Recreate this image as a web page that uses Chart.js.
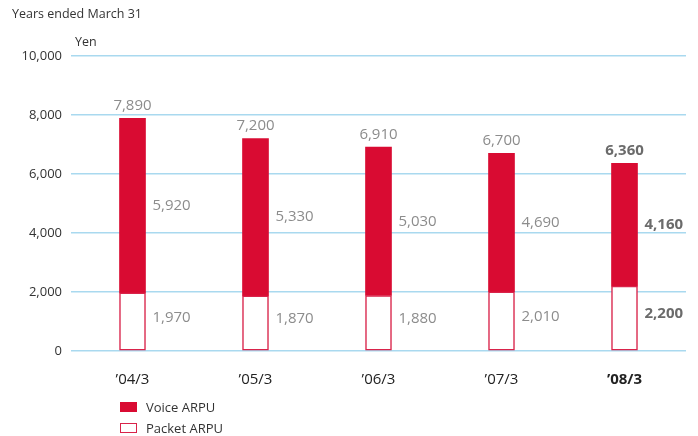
<!DOCTYPE html>
<html>
<head>
<meta charset="utf-8">
<script src="https://cdn.jsdelivr.net/npm/chart.js@4/dist/chart.umd.min.js"></script>
<style>
  body { margin: 0; background: #fff; font-family: "Open Sans", sans-serif; }
  #wrap { position: relative; width: 698px; height: 436px; }
  .txt { position: absolute; font-size: 12.5px; color: #333; white-space: nowrap; }
  .leg { position: absolute; left: 120px; font-size: 13px; color: #333; display: flex; align-items: center; }
  .leg span.box { display: inline-block; width: 17px; height: 10px; margin-right: 9px; box-sizing: border-box; }
</style>
</head>
<body>
<div id="wrap">
  <canvas id="grafico" width="698" height="436"></canvas>
  <div class="txt" style="left:12px; top:5px;">Years ended March 31</div>
  <div class="txt" style="left:75px; top:33px;">Yen</div>
  <div class="leg" style="top:398px;"><span class="box" style="background:#d90b32;"></span>Voice ARPU</div>
  <div class="leg" style="top:419px;"><span class="box" style="background:#fff;border:1.5px solid #d9234a;"></span>Packet ARPU</div>
</div>
<script>
const anos = ["’04/3", "’05/3", "’06/3", "’07/3", "’08/3"];
const voz = [5920, 5330, 5030, 4690, 4160];
const pacote = [1970, 1870, 1880, 2010, 2200];
const totais = [7890, 7200, 6910, 6700, 6360];
const ticksY = [0, 2000, 4000, 6000, 8000, 10000];

const ultimo = anos.length - 1;

function formatar(v) {
  return v.toLocaleString("en-US");
}

// Rótulos de valores ao lado e acima das barras
const rotulos = {
  id: "rotulos",
  afterDatasetsDraw(chart) {
    const ctx = chart.ctx;
    const barrasPacote = chart.getDatasetMeta(0).data;
    const barrasVoz = chart.getDatasetMeta(1).data;
    ctx.save();
    anos.forEach((a, i) => {
      const negrito = i === ultimo;
      ctx.font = (negrito ? "bold " : "") + "15px 'Open Sans'";
      ctx.fillStyle = negrito ? "#6b6b6b" : "#8c8c8c";

      const bv = barrasVoz[i];
      const bp = barrasPacote[i];
      const dir = bv.x + bv.width / 2 + 7;

      ctx.textAlign = "center";
      ctx.textBaseline = "bottom";
      ctx.fillText(formatar(totais[i]), bv.x, bv.y - 5);

      ctx.textAlign = "left";
      ctx.textBaseline = "middle";
      ctx.fillText(formatar(voz[i]), dir, (bv.y + bv.base) / 2);
      ctx.fillText(formatar(pacote[i]), dir, (bp.y + bp.base) / 2 - 4);
    });
    ctx.restore();
  }
};

new Chart(document.getElementById("grafico"), {
  type: "bar",
  data: {
    labels: anos,
    datasets: [
      {
        label: "Packet ARPU",
        data: pacote,
        backgroundColor: "#ffffff",
        borderColor: "#d9234a",
        borderWidth: 1.5,
        borderSkipped: false,
        barThickness: 26
      },
      {
        label: "Voice ARPU",
        data: voz,
        backgroundColor: "#d90b32",
        borderWidth: 0,
        barThickness: 26
      }
    ]
  },
  options: {
    responsive: false,
    animation: false,
    layout: { padding: { top: 56, right: 12, left: 0, bottom: 0 } },
    plugins: {
      legend: { display: false },
      tooltip: { enabled: false }
    },
    scales: {
      x: {
        stacked: true,
        grid: { display: false },
        border: { display: false },
        afterFit: s => { s.height = 85; },
        ticks: {
          padding: 12,
          color: "#222",
          font: ctx => ({
            family: "'Open Sans'",
            size: 15,
            weight: ctx.index === ultimo ? "bold" : "normal"
          })
        }
      },
      y: {
        stacked: true,
        min: 0,
        max: 10000,
        afterFit: s => { s.width = 71; },
        afterBuildTicks: s => { s.ticks = ticksY.map(v => ({ value: v })); },
        grid: { color: "#a9d9ef", lineWidth: 1.5, drawTicks: false },
        border: { display: false },
        ticks: {
          padding: 9,
          color: "#333",
          font: { family: "'Open Sans'", size: 13 },
          callback: v => formatar(v)
        }
      }
    }
  },
  plugins: [rotulos]
});
</script>
</body>
</html>
